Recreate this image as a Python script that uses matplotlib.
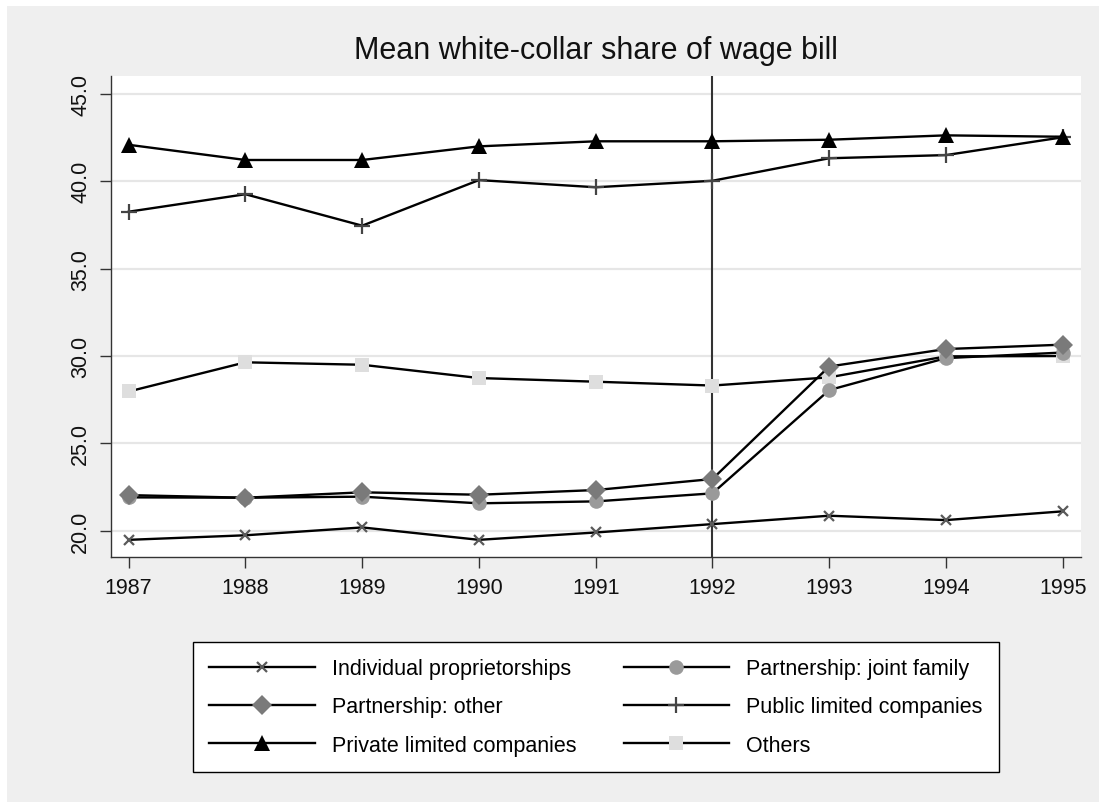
"""
Mean white-collar share of wage bill, by ownership type, 1987-1995
"""

import matplotlib
matplotlib.use('Agg')

import numpy as np
from matplotlib import pyplot as plt
from matplotlib.patches import Rectangle

plt.rcParams['font.family'] = ['Liberation Sans', 'DejaVu Sans']

# =============================================================================
# Data
# =============================================================================
years = [1987, 1988, 1989, 1990, 1991, 1992, 1993, 1994, 1995]

individual = [19.48, 19.74, 20.19, 19.48, 19.90, 20.38, 20.86, 20.61, 21.11]
joint_family = [21.91, 21.89, 21.95, 21.57, 21.68, 22.14, 28.05, 29.88, 30.20]
partnership_other = [22.04, 21.89, 22.20, 22.06, 22.33, 22.96, 29.40, 30.40, 30.65]
public_ltd = [38.26, 39.26, 37.46, 40.07, 39.66, 40.03, 41.32, 41.50, 42.52]
private_ltd = [42.09, 41.22, 41.22, 42.00, 42.29, 42.29, 42.38, 42.63, 42.55]
others = [27.97, 29.64, 29.50, 28.74, 28.53, 28.31, 28.78, 29.98, 30.00]

y_ticks = [20, 25, 30, 35, 40, 45]
reform_year = 1992

# =============================================================================
# Figure
# =============================================================================
W, H = 1099, 803
fig = plt.figure(figsize=(W / 100, H / 100), dpi=100)
fig.patch.set_facecolor('white')
# grey graph region (small white strip top and left, as in the original export)
fig.add_artist(Rectangle((7 / W, 0), 1, 1 - 7 / H, transform=fig.transFigure,
                         facecolor='#efefef', edgecolor='none', zorder=-10))

left, right, top, bottom = 110.7, 1081, 77.3, 558.3
ax = fig.add_axes([left / W, 1 - bottom / H, (right - left) / W, (bottom - top) / H])
ax.set_facecolor('white')

# series: (values, label, marker, colour, size)
series = {
    'ind': (individual, 'Individual proprietorships', 'x', '#5a5a5a', 6.5),
    'joint': (joint_family, 'Partnership: joint family', 'o', '#9a9a9a', 10.5),
    'other': (partnership_other, 'Partnership: other', 'D', '#7a7a7a', 10.5),
    'public': (public_ltd, 'Public limited companies', '+', '#444444', 11),
    'private': (private_ltd, 'Private limited companies', '^', 'black', 11.5),
    'others': (others, 'Others', 's', '#dedede', 10),
}

handles = {}
for z, key in enumerate(['others', 'ind', 'joint', 'other', 'public', 'private']):
    vals, lab, mk, col, ms = series[key]
    mew = 1.6 if mk in ('x', '+') else 0
    h, = ax.plot(years, vals, color='black', lw=1.7, marker=mk, ms=ms,
                 markerfacecolor=col, markeredgecolor=col, markeredgewidth=mew,
                 label=lab, zorder=3 + z)
    handles[key] = h

ax.axvline(reform_year, color='#333333', lw=1.5, zorder=2)

ax.set_xlim(1986.846, 1995.157)
ax.set_ylim(18.48, 46.01)
ax.set_xticks(years)
ax.set_yticks(y_ticks)
ax.set_yticklabels([f'{v:.1f}' for v in y_ticks], rotation=90, va='center')
ax.yaxis.grid(True, color='#e6e6e6', lw=1.6, zorder=0)
ax.set_axisbelow(True)

for s in ['top', 'right']:
    ax.spines[s].set_visible(False)
for s in ['left', 'bottom']:
    ax.spines[s].set_color('#333333')
    ax.spines[s].set_linewidth(1.0)
ax.tick_params(axis='both', colors='#333333', labelcolor='#111111',
               length=8, width=1.0, labelsize=15.5)
ax.tick_params(axis='y', pad=6)
ax.tick_params(axis='x', pad=6)

ax.set_title('Mean white-collar share of wage bill', fontsize=22, pad=13,
             color='#111111')

# legend: row-major order in 2 columns -> column-major handle list
order = ['ind', 'other', 'private', 'joint', 'public', 'others']
leg = fig.legend([handles[k] for k in order], [series[k][1] for k in order],
                 ncol=2, loc='upper center',
                 bbox_to_anchor=((left + right) / 2 / W, 1 - 643 / H),
                 fontsize=15.5, frameon=True, fancybox=False, shadow=False,
                 handlelength=4.9, handletextpad=0.8, columnspacing=2.2,
                 labelspacing=0.8, borderpad=0.75, borderaxespad=0)
leg.get_frame().set_edgecolor('black')
leg.get_frame().set_linewidth(1.0)
leg.get_frame().set_facecolor('white')
leg.get_frame().set_alpha(1.0)

plt.savefig('out.png', dpi=100)
plt.close()
